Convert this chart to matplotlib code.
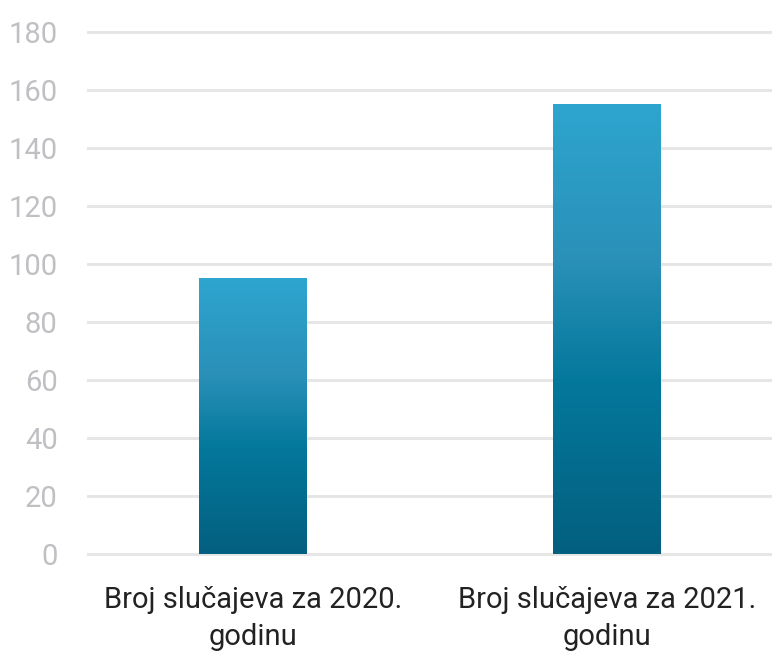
import numpy as np
import matplotlib.pyplot as plt
from matplotlib.colors import LinearSegmentedColormap

categories = ["Broj slučajeva za 2020.\ngodinu", "Broj slučajeva za 2021.\ngodinu"]
values = [95, 155]
y_ticks = [0, 20, 40, 60, 80, 100, 120, 140, 160, 180]

plt.rcParams['font.family'] = ['Roboto', 'DejaVu Sans']

fig = plt.figure(figsize=(7.72, 6.54), dpi=100)
ax = fig.add_axes([88 / 772, 100 / 654, 1 - 88 / 772, 522 / 654])

# gradient from light blue (top) to dark teal (bottom)
cmap = LinearSegmentedColormap.from_list(
    "bars", [(0.0, "#045f80"), (0.38, "#03789b"), (0.65, "#2a90b8"), (1.0, "#2da5cf")])
grad = np.linspace(0, 1, 256).reshape(-1, 1)

width = 0.305
x = np.arange(len(categories))
bars = ax.bar(x, values, width=width, color="none", zorder=3)
for b in bars:
    x0, y0 = b.get_x(), b.get_y()
    ax.imshow(grad, cmap=cmap, origin="lower", aspect="auto",
              extent=[x0, x0 + b.get_width(), y0, y0 + b.get_height()], zorder=3)

ax.set_xlim(-0.466, 1.466)
ax.set_ylim(0, 180)
ax.set_yticks(y_ticks)
ax.set_xticks(x)
ax.set_xticklabels(categories, fontsize=21, color="#222222", linespacing=1.4)
ax.tick_params(axis="x", length=0, pad=23)
ax.tick_params(axis="y", length=0, pad=22, labelsize=21, labelcolor="#c0c0c4")

ax.grid(True, axis="y", color="#e6e6e6", linewidth=2.2, zorder=0)
for gl in ax.get_ygridlines():
    gl.set_clip_on(False)
ax.set_axisbelow(True)
for s in ax.spines.values():
    s.set_visible(False)

fig.savefig("out.png", dpi=100)
